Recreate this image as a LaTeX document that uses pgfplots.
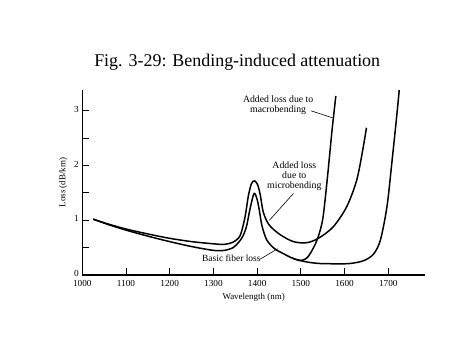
\documentclass[border=0pt]{standalone}
\usepackage{fontspec}
\setmainfont{Liberation Serif}
\usepackage{pgfplots}
\pgfplotsset{compat=1.18}
\begin{document}
\begin{tikzpicture}[x=1bp,y=1bp]
\useasboundingbox (0,0) rectangle (474,355);
\node[anchor=base, font=\fontsize{18}{20}\selectfont] at (237.2,289) {Fig. 3-29: Bending-induced attenuation};
\begin{axis}[
  at={(82.3bp,80bp)}, anchor=south west,
  scale only axis, width=342.7bp, height=185bp,
  xmin=1000, xmax=1784, ymin=0, ymax=3.38,
  axis x line=bottom, axis y line=left,
  axis line style={-, line width=1.2pt},
  xtick={1000,1100,...,1700}, ytick={0,1,2,3}, minor ytick={0.5,1.5,2.5},
  tick align=inside, major tick length=7bp, minor tick length=7bp,
  tick style={black, line width=0.9pt},
  ticklabel style={font=\fontsize{9.3}{10}\selectfont},
  /pgf/number format/assume math mode=true,
  xticklabel style={/pgf/number format/1000 sep={}, yshift=-1.5bp},
  yticklabel style={yshift=1.5bp},
  xlabel={Wavelength (nm)}, ylabel={Loss (dB/km)},
  label style={font=\fontsize{9}{10}\selectfont},
  clip=false,
]
% basic fiber loss
\addplot[black, line width=1.5pt, smooth, tension=0.5] coordinates {
(1025,1.02) (1060,0.92) (1100,0.82) (1150,0.71) (1200,0.61) (1250,0.52) (1300,0.45) (1325,0.45)
(1345,0.50) (1358,0.60) (1368,0.72) (1376,0.90) (1384,1.22) (1393,1.49) (1400,1.38) (1405,1.18)
(1411,0.90) (1422,0.64) (1440,0.48) (1460,0.39) (1480,0.31) (1498,0.265) (1520,0.23) (1544,0.21)
(1580,0.205) (1612,0.21) (1643,0.26) (1666,0.38) (1682,0.64) (1697,1.25) (1708,2.04) (1720,2.96) (1725,3.38)
};
% microbending
\addplot[black, line width=1.5pt, smooth, tension=0.5] coordinates {
(1025,1.02) (1060,0.93) (1100,0.84) (1150,0.75) (1200,0.67) (1250,0.61) (1300,0.57) (1325,0.56)
(1345,0.60) (1361,0.72) (1372,1.05) (1380,1.45) (1387,1.67) (1394,1.72) (1401,1.65) (1407,1.47)
(1414,1.15) (1427,0.92) (1452,0.74) (1483,0.61) (1513,0.59) (1540,0.67) (1574,0.88) (1605,1.25)
(1628,1.74) (1643,2.35) (1650,2.69)
};
% macrobending
\addplot[black, line width=1.5pt, smooth, tension=0.5] coordinates {
(1480,0.31) (1498,0.265) (1512,0.30) (1522,0.40) (1537,0.64) (1550,1.02) (1561,1.8) (1571,2.62) (1580,3.27)
};
% annotations
\node[align=center, font=\fontsize{9.8}{10}\selectfont] at (axis cs:1448,3.11) {Added loss due to\\macrobending};
\draw[black, line width=0.6pt] (axis cs:1523,3.0) -- (axis cs:1573,2.87);
\node[align=center, font=\fontsize{9.8}{10}\selectfont] at (axis cs:1485,1.80) {Added loss\\due to\\microbending};
\draw[black, line width=0.6pt] (axis cs:1483,1.49) -- (axis cs:1428,1.0);
\node[font=\fontsize{9.5}{10}\selectfont] at (axis cs:1341,0.31) {Basic fiber loss};
\draw[black, line width=0.6pt] (axis cs:1407,0.29) -- (axis cs:1447,0.48);
\end{axis}
\end{tikzpicture}
\end{document}
